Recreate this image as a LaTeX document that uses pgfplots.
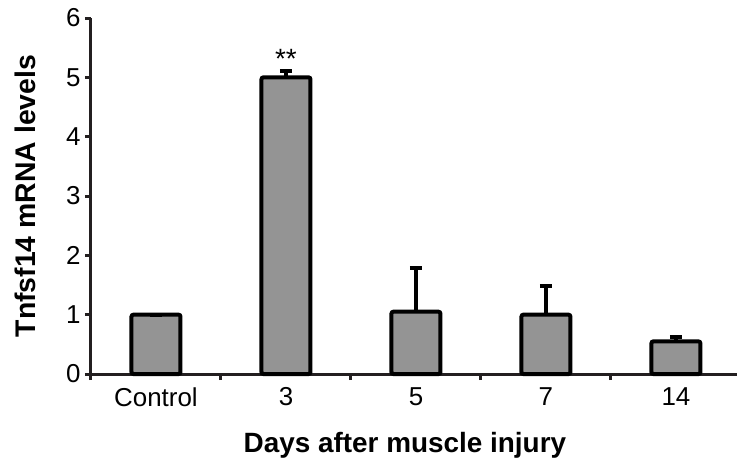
\documentclass[border=0pt]{standalone}
\usepackage{pgfplots}
\pgfplotsset{compat=1.18}
\usepackage{fontspec}
\setmainfont{Liberation Sans}
\definecolor{barcol}{HTML}{949494}
\definecolor{axiscol}{HTML}{231F20}
\begin{document}
\begin{tikzpicture}
\begin{axis}[
  at={(0,0)}, anchor=south west,
  scale only axis, width=646bp, height=356bp,
  xmin=-0.5, xmax=4.47, ymin=0, ymax=6,
  axis x line*=bottom, axis y line*=left,
  axis line style={-, line width=3bp, color=axiscol},
  tick align=outside,
  major tick length=6bp,
  tick style={line width=3bp, color=axiscol},
  ytick={0,1,2,3,4,5,6},
  xtick={-0.5,0.5,1.5,2.5,3.5},
  xticklabels={},
  extra x ticks={0,1,2,3,4},
  extra x tick labels={Control,3,5,7,14},
  extra x tick style={major tick length=0pt, xticklabel style={yshift=-10bp}},
  ticklabel style={font=\fontsize{26}{30}\selectfont},
  yticklabel style={xshift=-1bp},
  /pgf/number format/assume math mode=true,
  every axis y label/.style={at={(axis description cs:-0.102,0.5)}, rotate=90, anchor=center},
  every axis x label/.style={at={(axis description cs:0.486,0)}, anchor=base, yshift=-78bp},
  ylabel={\fontsize{28.5}{32}\selectfont\bfseries Tnfsf14 mRNA levels},
  xlabel={\fontsize{28}{32}\selectfont\bfseries Days after muscle injury},
  clip=false,
]
\addplot[ybar, bar width=49bp, fill=barcol, draw=black, line width=4bp, rounded corners=2bp,
  error bars/.cd, y dir=plus, y explicit,
  error bar style={line width=4bp, black, rounded corners=0pt},
  error mark options={rotate=90, line width=4bp, mark size=6bp, black}]
  coordinates {(0,1.0) +- (0,0) (1,5.0) +- (0,0.11) (2,1.05) +- (0,0.74) (3,1.0) +- (0,0.49) (4,0.55) +- (0,0.08)};
\node[anchor=base, font=\fontsize{28}{32}\selectfont, inner sep=0pt] at (axis cs:1,5.15) {**};
\end{axis}
\pgfresetboundingbox
\useasboundingbox (-91bp,-88bp) rectangle (646bp,374bp);
\end{tikzpicture}
\end{document}
